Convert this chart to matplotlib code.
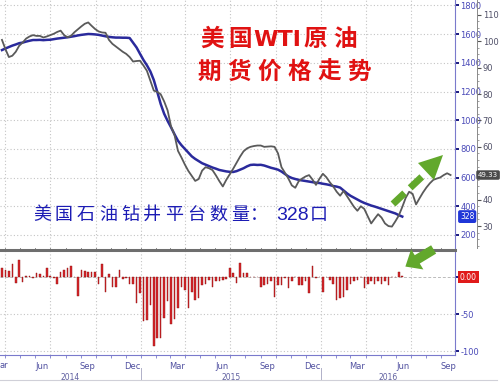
import matplotlib
matplotlib.use('Agg')
import matplotlib.pyplot as plt
import matplotlib.dates as mdates
import matplotlib.transforms as mtransforms
from matplotlib.lines import Line2D
from matplotlib.patches import Polygon, FancyArrowPatch, ArrowStyle
from matplotlib.ticker import FixedLocator, MultipleLocator
import pandas as pd

plt.rcParams['font.family'] = ['Liberation Sans Narrow', 'DejaVu Sans']

# weekly data
weeks = pd.date_range('2014-03-25', periods=131, freq='7D')

wti_price = [100.5, 97, 94, 94.5, 96, 98.3, 99.5, 101, 101.8, 102.3,
             102, 102, 101.4, 101.8, 102.3, 102.8, 103.5, 104, 102.3, 101.5,
             102, 103.4, 104.5, 105.6, 106.6, 107.1, 105.8, 104.6, 103.7, 103.3,
             103.2, 100.5, 99, 98, 97, 96, 95.2, 94, 92.3, 92.5,
             92.6, 90.8, 88.8, 85, 81.3, 80.8, 79.9, 77.2, 73.8, 67.7,
             64.5, 58.5, 56, 53.3, 50.9, 49, 47.1, 47.8, 51, 52.3,
             51.9, 51.2, 49.2, 47, 45, 47.5, 49.6, 51.7, 54, 56.3,
             58.3, 59.4, 60, 60.3, 60.5, 60.5, 60, 60.1, 60.2, 60,
             57.5, 52.3, 50.2, 48, 45.4, 44.5, 47, 48, 48.8, 49.3,
             47.6, 45.6, 47.9, 49.8, 48.5, 46.6, 45, 43, 41.5, 43.3,
             41.3, 39.3, 37.3, 35.8, 37.5, 36.5, 33.7, 31, 32.8, 34.5,
             33.2, 31, 30, 29.8, 31.8, 34, 37.2, 40.7, 43, 42.2,
             38.2, 40.5, 42.7, 44.6, 46.2, 47.5, 48, 48.4, 49.3, 50,
             49.33]

rig_count = [1489, 1500, 1510, 1520, 1528, 1537, 1541, 1548, 1554, 1559,
             1559, 1560, 1558, 1560, 1561, 1565, 1569, 1572, 1575, 1578,
             1582, 1586, 1591, 1595, 1598, 1601, 1600, 1598, 1595, 1590,
             1585, 1581, 1578, 1576, 1576, 1575, 1575, 1573, 1540, 1507,
             1463, 1420, 1383, 1340, 1280, 1198, 1113, 1045, 995, 950,
             902, 857, 826, 800, 774, 748, 730, 715, 700, 690,
             680, 670, 662, 653, 648, 643, 640, 639, 645, 655,
             665, 678, 688, 690, 688, 689, 684, 676, 668, 662,
             655, 642, 625, 608, 597, 590, 584, 580, 576, 572,
             568, 564, 562, 557, 553, 548, 541, 537, 530, 510,
             490, 473, 460, 447, 434, 423, 414, 405, 398, 390,
             382, 374, 366, 358, 350, 338, 328]

rig_change = [12, 10, 8, 17, -8, 23, -7, 1, 2, -2,
              6, 4, 2, 12, 2, -2, -9, 7, 9, 12,
              15, 0, -26, 10, 8, 7, 7, 7, -10, 17,
              -20, 4, -13, -14, 9, -3, -1, -9, -10, -35,
              -22, -60, -58, -38, -93, -83, -83, -56, -33, -63,
              -57, -42, -13, -18, -42, -20, -31, -29, -11, -9,
              -4, -13, -6, -5, -4, -3, 12, 5, -8, 19,
              5, 5, 0, 0, 0, -13, -11, -9, -6, -27,
              -11, -11, -2, -15, -6, 0, -11, -11, -6, -21,
              15, -2, 0, -20, 0, -4, -9, -31, -29, -27,
              -18, -9, -6, -4, 0, -15, -9, -6, -9, -6,
              -9, -6, -11, 0, 0, 7, 1]

rig_ticks = [200, 400, 600, 800, 1000, 1200, 1400, 1600, 1800]
price_ticks = [30, 40, 50, 60, 70, 80, 90, 100, 110]
price_labels = ['30', '40', '', '60', '70', '80', '90', '100', '110']
change_ticks = [0, -50, -100]
change_labels = ['', '-50', '-100']
month_labels = ['Jun', 'Sep', 'Dec', 'Mar', 'Jun', 'Sep', 'Dec', 'Mar', 'Jun', 'Sep']
month_pos = pd.date_range('2014-06-01', periods=10, freq='3MS') + pd.Timedelta(days=14)
years = ['2014', '2015', '2016']
year_mid = pd.to_datetime(['2014-08-11', '2015-07-02', '2016-05-16'])
year_breaks = pd.to_datetime(['2015-01-01', '2016-01-01'])
quarters = pd.date_range('2014-04-01', '2016-07-01', freq='QS')

W, H = 500, 388
def fx(px):
    return px / W
def fy(py):
    return 1 - py / H

fig = plt.figure(figsize=(5, 3.88), dpi=100)
fig.patch.set_facecolor('white')

ax = fig.add_axes([0, fy(248), fx(455), 248 / H])
ax2 = ax.twinx()
axb = fig.add_axes([0, fy(355), fx(455), 105 / H], sharex=ax)

grid_c = '#c4c4c4'

# top panel: rig count (scale drawn on right) and WTI price
ax.plot(weeks[:len(rig_count)], rig_count, color='#2a2a9c', lw=1.8, zorder=3)
ax2.plot(weeks, wti_price, color='#5a5a5a', lw=1.3, zorder=3)

ax.set_ylim(109, 1838)
ax2.set_ylim(21.7, 115.6)
ax.set_xlim(pd.Timestamp('2014-03-21'), pd.Timestamp('2016-09-29'))

for t in rig_ticks:
    ax.axhline(t, color=grid_c, lw=0.8, ls=(0, (1, 2)), zorder=1)
for q in quarters:
    ax.axvline(q, color=grid_c, lw=0.8, ls=(0, (1, 2)), zorder=1)
    axb.axvline(q, color=grid_c, lw=0.8, ls=(0, (1, 2)), zorder=1)

ax.yaxis.tick_right()
ax.set_yticks(rig_ticks)
ax.tick_params(axis='y', direction='out', length=3, width=1.4, color='#1a1a80',
               pad=1, labelsize=6, labelcolor='#4a4ab8')
ax.tick_params(axis='x', bottom=False, labelbottom=False)
for s in ['top', 'left', 'bottom']:
    ax.spines[s].set_visible(False)
    ax2.spines[s].set_visible(False)
ax.spines['right'].set_color('#7a7acc')
ax.spines['right'].set_linewidth(0.8)

ax2.spines['right'].set_position(('outward', 16))
ax2.spines['right'].set_color('#8a8a8a')
ax2.spines['right'].set_linewidth(0.7)
ax2.set_yticks(price_ticks)
ax2.set_yticklabels(price_labels)
ax2.yaxis.set_minor_locator(MultipleLocator(2.5))
ax2.tick_params(axis='y', which='major', direction='out', length=3, width=0.8,
                color='#555555', pad=1, labelsize=6, labelcolor='#505068')
ax2.tick_params(axis='y', which='minor', direction='out', length=1.5, width=0.5,
                color='#777777')

# bottom panel: weekly change in rig count
axb.bar(weeks[:len(rig_change)], rig_change, width=3.2, color='#d8262a',
        edgecolor='#8c1212', linewidth=0.3, zorder=3)
axb.set_ylim(-105.4, 36.5)
axb.axhline(0, color='#bbbbbb', lw=0.7, ls=(0, (3, 2)), zorder=1)
for t in change_ticks[1:]:
    axb.axhline(t, color=grid_c, lw=0.8, ls=(0, (1, 2)), zorder=1)
axb.yaxis.tick_right()
axb.set_yticks(change_ticks)
axb.set_yticklabels(change_labels)
axb.tick_params(axis='y', direction='out', length=3, width=1.4, color='#1a1a80',
                pad=1, labelsize=6, labelcolor='#4a4ab8')
axb.spines['left'].set_visible(False)
axb.spines['top'].set_color('#6e6e6e')
axb.spines['top'].set_linewidth(2.2)
axb.spines['right'].set_color('#7a7acc')
axb.spines['bottom'].set_color('#7a7acc')
axb.spines['right'].set_linewidth(0.8)
axb.spines['bottom'].set_linewidth(0.8)

axb.xaxis.set_major_locator(FixedLocator(mdates.date2num(month_pos)))
axb.xaxis.set_major_formatter(plt.FixedFormatter(month_labels))
axb.xaxis.set_minor_locator(mdates.MonthLocator())
axb.tick_params(axis='x', which='major', length=0, pad=5, labelsize=6,
                labelcolor='#5050a0')
axb.tick_params(axis='x', which='minor', length=2, width=0.6, color='#7a7acc')
fig.text(fx(0), fy(366), 'ar', ha='left', va='center', fontsize=6, color='#5050a0')

# year row under the months
trans = mtransforms.blended_transform_factory(axb.transData, fig.transFigure)
for y, xm in zip(years, year_mid):
    fig.text(mdates.date2num(xm), fy(377), y, transform=trans, ha='center',
             va='center', fontsize=5.5, color='#6060a0')
for b in year_breaks:
    fig.add_artist(Line2D([mdates.date2num(b)] * 2, [fy(368), fy(380)],
                          transform=trans, color='#b0b0c8', lw=0.7))
fig.add_artist(Line2D([0, fx(497)], [fy(380), fy(380)], transform=fig.transFigure,
                      color='#d0d0d8', lw=0.8))

# last value boxes
ax2.text(478 / 455, wti_price[-1], '49.33', transform=ax2.get_yaxis_transform(),
         ha='left', va='center', fontsize=5, color='white',
         bbox=dict(boxstyle='round,pad=0.25', fc='#4a4a4a', ec='none'))
ax.text(460 / 455, rig_count[-1], '328', transform=ax.get_yaxis_transform(),
        ha='left', va='center', fontsize=5.5, color='white',
        bbox=dict(boxstyle='round,pad=0.25', fc='#1f36d8', ec='none'))
axb.text(460 / 455, 0, '0.00', transform=axb.get_yaxis_transform(),
         ha='left', va='center', fontsize=5.5, color='white',
         bbox=dict(boxstyle='square,pad=0.25', fc='#e01a1a', ec='none'))

# Chinese captions
cjk = ['Noto Sans CJK SC', 'DejaVu Sans']
red = '#e01212'
for ch, x0 in [('美', 200), ('国', 228), ('原', 303), ('油', 333)]:
    fig.text(fx(x0), fy(39), ch, ha='left', va='center', fontsize=17,
             color=red, family=cjk, weight='bold')
fig.text(fx(253), fy(40), 'WTI', ha='left', va='center', fontsize=16,
         color=red, family=['DejaVu Sans'], weight='bold')
for i, ch in enumerate('期货价格走势'):
    fig.text(fx(197 + 30 * i), fy(72), ch, ha='left', va='center', fontsize=17,
             color=red, family=cjk, weight='bold')

blue = '#1c1cb4'
for i, ch in enumerate('美国石油钻井平台数量'):
    fig.text(fx(33 + 22 * i), fy(215), ch, ha='left', va='center', fontsize=13,
             color=blue, family=cjk)
fig.text(fx(250), fy(215), '：', ha='left', va='center', fontsize=13,
         color=blue, family=cjk)
fig.text(fx(276), fy(215), '328', ha='left', va='center', fontsize=14,
         color=blue, family=['Liberation Sans', 'DejaVu Sans'])
fig.text(fx(310), fy(215), '口', ha='left', va='center', fontsize=13,
         color=blue, family=cjk)

# green arrows
green = '#62a82c'
fig.add_artist(Line2D([fx(393), fx(428)], [fy(204), fy(171)], transform=fig.transFigure,
                      color=green, lw=5, dashes=(2.3, 1.1), solid_capstyle='butt'))
fig.add_artist(Polygon([(fx(443), fy(155)), (fx(434), fy(180)), (fx(418), fy(163))],
                       closed=True, transform=fig.transFigure, fc=green, ec='none'))
fig.add_artist(FancyArrowPatch((fx(436), fy(248)), (fx(403), fy(268)),
                               transform=fig.transFigure,
                               arrowstyle=ArrowStyle.Simple(head_length=1.0, head_width=1.7,
                                                            tail_width=0.7),
                               mutation_scale=10, fc=green, ec='none'))

fig.savefig('out.png', dpi=100, facecolor='white')
